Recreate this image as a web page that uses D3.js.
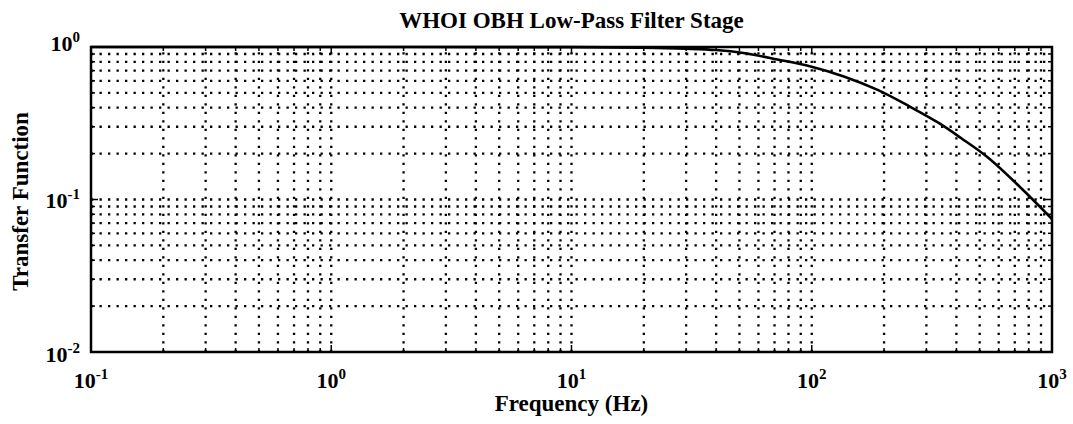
<!DOCTYPE html>
<html><head><meta charset="utf-8">
<script src="https://cdn.jsdelivr.net/npm/d3@7"></script>
<style>
html,body{margin:0;padding:0;background:#fff;}
svg{display:block;}
text{font-family:"Liberation Serif","Times New Roman",serif;font-weight:bold;fill:#000;}
</style></head>
<body>
<svg id="chart" width="1073" height="424"></svg>
<script>
// ---- data ----
const title = "WHOI OBH Low-Pass Filter Stage";
const xLabel = "Frequency (Hz)";
const yLabel = "Transfer Function";
const freqHz = [0.1, 1, 10, 20, 30, 40, 52, 72, 99, 136, 188, 258, 335, 418, 541, 743, 1000];
const transfer = [1, 1, 0.998, 0.99, 0.975, 0.955, 0.913, 0.828, 0.745, 0.641, 0.523, 0.404, 0.320, 0.253, 0.1886, 0.119, 0.0745];
const xTickExps = [-1, 0, 1, 2, 3];
const yTickExps = [-2, -1, 0];

// ---- layout ----
const svg = d3.select("#chart");
const L = 91, R = 1052, T = 47, B = 352;
const x = d3.scaleLog().domain([0.1, 1000]).range([L, R]);
const y = d3.scaleLog().domain([0.01, 1]).range([B, T]);

// minor + major grid values
const xGrid = [], yGrid = [];
for (let e = -1; e < 3; e++) for (let m = 1; m <= 9; m++) { const v = m * Math.pow(10, e); if (v > 0.1 + 1e-9) xGrid.push(v); }
for (let e = -2; e < 0; e++) for (let m = 1; m <= 9; m++) { const v = m * Math.pow(10, e); if (v > 0.01 + 1e-12) yGrid.push(v); }

const grid = svg.append("g").attr("stroke", "#000").attr("stroke-width", 2.3)
  .attr("stroke-dasharray", "2.3,6.2").attr("fill", "none");
grid.selectAll("line.v").data(xGrid.filter(v => v < 999)).join("line")
  .attr("x1", d => x(d)).attr("x2", d => x(d)).attr("y1", B).attr("y2", T);
grid.selectAll("line.h").data(yGrid.filter(v => v < 0.999)).join("line")
  .attr("class", "h")
  .attr("x1", L).attr("x2", R).attr("y1", d => y(d)).attr("y2", d => y(d));

// ticks (inward)
const ticks = svg.append("g").attr("stroke", "#000").attr("stroke-width", 1.5);
const isMajor = v => Math.abs(Math.log10(v) - Math.round(Math.log10(v))) < 1e-6;
yGrid.forEach(v => {
  const len = isMajor(v) ? 7 : 4;
  ticks.append("line").attr("x1", L).attr("x2", L + len).attr("y1", y(v)).attr("y2", y(v));
  ticks.append("line").attr("x1", R).attr("x2", R - len).attr("y1", y(v)).attr("y2", y(v));
});
xGrid.forEach(v => {
  const len = isMajor(v) ? 7 : 4;
  ticks.append("line").attr("y1", B).attr("y2", B - len).attr("x1", x(v)).attr("x2", x(v));
  ticks.append("line").attr("y1", T).attr("y2", T + len).attr("x1", x(v)).attr("x2", x(v));
});

// curve
const line = d3.line().x(d => x(d[0])).y(d => y(d[1])).curve(d3.curveCatmullRom.alpha(0.5));
svg.append("path").datum(freqHz.map((f, i) => [f, transfer[i]]))
  .attr("d", line).attr("fill", "none").attr("stroke", "#000").attr("stroke-width", 2.6);

// frame
svg.append("rect").attr("x", L).attr("y", T).attr("width", R - L).attr("height", B - T)
  .attr("fill", "none").attr("stroke", "#000").attr("stroke-width", 2.5);

// x tick labels
xTickExps.forEach(e => {
  const t = svg.append("text").attr("x", x(Math.pow(10, e))).attr("y", 388)
    .attr("text-anchor", "middle").attr("font-size", 22);
  t.append("tspan").text("10");
  t.append("tspan").attr("dy", -9).attr("font-size", 15).text(String(e));
});
// y tick labels
yTickExps.forEach(e => {
  const t = svg.append("text").attr("x", 80).attr("y", y(Math.pow(10, e)) + (e === 0 ? 4 : (e === -2 ? 10 : 8)))
    .attr("text-anchor", "end").attr("font-size", 22);
  t.append("tspan").text("10");
  t.append("tspan").attr("dy", -9).attr("font-size", 15).text(String(e));
});

// titles
svg.append("text").attr("x", (L + R) / 2).attr("y", 28).attr("text-anchor", "middle")
  .attr("font-size", 23).text(title);
svg.append("text").attr("x", (L + R) / 2).attr("y", 411).attr("text-anchor", "middle")
  .attr("font-size", 23).text(xLabel);
svg.append("text").attr("transform", "translate(28," + ((T + B) / 2 + 2) + ") rotate(-90)")
  .attr("text-anchor", "middle").attr("font-size", 23).text(yLabel);
</script>
</body></html>
